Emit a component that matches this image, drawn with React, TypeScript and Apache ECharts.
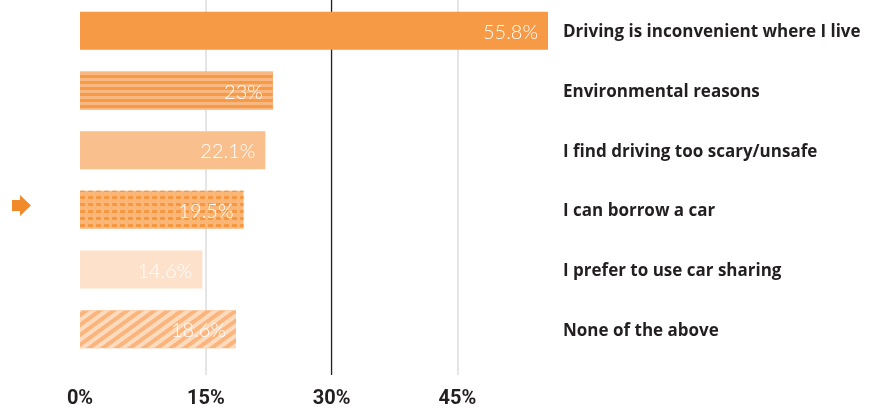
import React, { useEffect, useRef } from 'react';
import * as echarts from 'echarts';

const categories = [
  'Driving is inconvenient where I live',
  'Environmental reasons',
  'I find driving too scary/unsafe',
  'I can borrow a car',
  'I prefer to use car sharing',
  'None of the above',
];
const values = [55.8, 23, 22.1, 19.5, 14.6, 18.6];
const axisMax = 55.8;
const tickStep = 15;
const highlightStep = 30;

const barStyles: any[] = [
  { color: '#F69A45' },
  {
    color: '#F69A45',
    decal: { symbol: 'rect', symbolSize: 1, color: '#F9B882', dashArrayX: [1, 0], dashArrayY: [3, 3], rotation: 0 },
  },
  { color: '#F9C08D' },
  {
    color: '#F9B676',
    decal: { symbol: 'roundRect', symbolSize: 1, color: '#F6963F', dashArrayX: [5, 3], dashArrayY: [3, 4], rotation: 0 },
  },
  { color: '#FDE1CB' },
  {
    color: '#FBB57C',
    decal: { symbol: 'rect', symbolSize: 1, color: '#FDDBBF', dashArrayX: [1, 0], dashArrayY: [4, 4], rotation: -Math.PI / 5 },
  },
];

export default function App() {
  const ref = useRef<HTMLDivElement>(null);
  useEffect(() => {
    const chart = echarts.init(ref.current!, null, { renderer: 'svg' });
    chart.setOption({
      animation: false,
      grid: [
        { left: 80, right: 330, top: 0, bottom: 33 },
        { left: 80, right: 330, top: 1, bottom: 49 },
      ],
      xAxis: [
        {
          gridIndex: 0,
          type: 'value',
          min: 0,
          max: axisMax,
          interval: tickStep,
          axisLine: { show: false },
          axisTick: { show: false },
          splitLine: {
            show: true,
            showMinLine: false,
            showMaxLine: false,
            lineStyle: { color: '#dcdcdc', width: 1.5 },
          },
          axisLabel: {
            showMaxLabel: false,
            formatter: (v: number) => `${v}%`,
            fontFamily: 'Roboto',
            fontWeight: 'bold',
            fontSize: 20,
            color: '#231f20',
            margin: 12,
          },
        },
        {
          gridIndex: 0,
          type: 'value',
          min: 0,
          max: axisMax,
          interval: highlightStep,
          axisLine: { show: false },
          axisTick: { show: false },
          axisLabel: { show: false },
          splitLine: {
            show: true,
            showMinLine: false,
            showMaxLine: false,
            lineStyle: { color: '#231f20', width: 1.2 },
          },
        },
        {
          gridIndex: 1,
          type: 'value',
          min: 0,
          max: axisMax,
          show: false,
        },
      ],
      yAxis: [
        { gridIndex: 0, type: 'value', min: 0, max: 1, show: false },
        {
          gridIndex: 1,
          type: 'category',
          data: categories,
          inverse: true,
          position: 'right',
          axisLine: { show: false },
          axisTick: { show: false },
          axisLabel: {
            margin: 15,
            align: 'left',
            fontFamily: 'Open Sans',
            fontWeight: 'bold',
            fontSize: 17,
            color: '#231f20',
          },
        },
      ],
      series: [
        {
          type: 'bar',
          xAxisIndex: 2,
          yAxisIndex: 1,
          barWidth: 38,
          data: values.map((v, i) => ({ value: v, itemStyle: barStyles[i] })),
          label: {
            show: true,
            position: 'insideRight',
            distance: 10,
            formatter: (p: any) => `${p.value}%`,
            color: '#ffffff',
            fontFamily: 'Lato',
            fontWeight: 300,
            fontSize: 20,
          },
        },
      ],
      graphic: [
        {
          type: 'polygon',
          shape: {
            points: [
              [12, 200], [20, 200], [20, 195], [31, 205.5], [20, 216], [20, 211], [12, 211],
            ],
          },
          style: { fill: '#F08A2A' },
        },
      ],
    });
    return () => chart.dispose();
  }, []);
  return <div ref={ref} style={{ position: 'fixed', left: 0, top: 0, width: 878, height: 408 }} />;
}
